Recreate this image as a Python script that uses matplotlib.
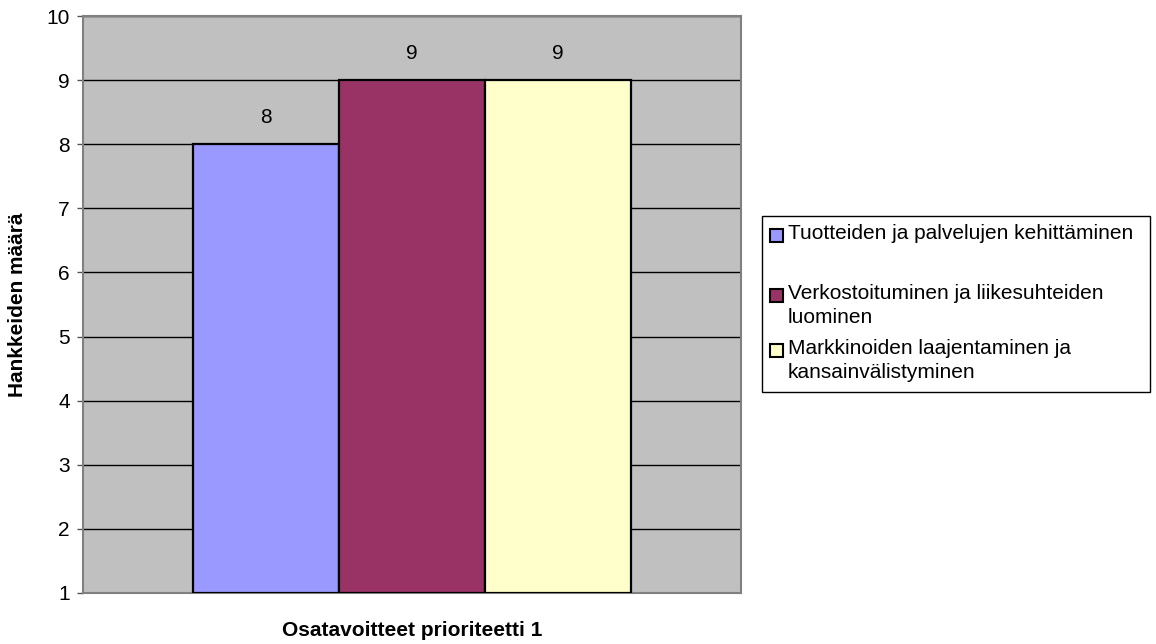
import matplotlib.pyplot as plt
from matplotlib.patches import Rectangle

categories = [
    "Tuotteiden ja palvelujen kehittäminen",
    "Verkostoituminen ja liikesuhteiden\nluominen",
    "Markkinoiden laajentaminen ja\nkansainvälistyminen",
]
values = [8, 9, 9]
colors = ["#9999FF", "#993366", "#FFFFCC"]
yticks = list(range(1, 11))

plt.rcParams["font.family"] = ["Liberation Sans", "DejaVu Sans"]
plt.rcParams["font.size"] = 15

W, H = 1156, 644
fig = plt.figure(figsize=(W / 100, H / 100), dpi=100)
ax = fig.add_axes([83 / W, 1 - 593 / H, (741 - 83) / W, (593 - 16) / H])
ax.set_facecolor("#C0C0C0")

x = list(range(len(values)))
base = yticks[0]
ax.bar(x, [v - base for v in values], bottom=base, width=1.0, color=colors,
       edgecolor="black", linewidth=1.6, zorder=3)
for xi, v in zip(x, values):
    ax.annotate(str(v), (xi, v), xytext=(0, 19), textcoords="offset points",
                ha="center", va="center", fontsize=15)

ax.set_xlim(-1.253, 3.253)
ax.set_ylim(yticks[0], yticks[-1])
ax.set_yticks(yticks)
ax.set_xticks([])
ax.grid(axis="y", color="black", linewidth=1.0, zorder=1)
ax.set_axisbelow(True)
ax.tick_params(axis="y", length=4.5, width=1, color="#555555", pad=5, labelsize=15)
for s in ax.spines.values():
    s.set_color("#808080")
    s.set_linewidth(1.5)

fig.text(18 / W, 1 - 305 / H, "Hankkeiden määrä", rotation=90, ha="center",
         va="center", fontweight="bold", fontsize=15)
fig.text(412 / W, 1 - 631 / H, "Osatavoitteet prioriteetti 1", ha="center",
         va="center", fontweight="bold", fontsize=15)

# legend drawn by hand to mimic the spreadsheet layout
fig.patches.append(Rectangle((762 / W, 1 - 392 / H), (1150 - 762) / W, (392 - 216) / H,
                             transform=fig.transFigure, facecolor="white",
                             edgecolor="black", linewidth=1.0))
entry_tops = [236, 296, 351]
for label, color, yc in zip(categories, colors, entry_tops):
    fig.patches.append(Rectangle((770 / W, 1 - (yc + 6) / H), 13 / W, 13 / H,
                                 transform=fig.transFigure, facecolor=color,
                                 edgecolor="black", linewidth=1.5))
    fig.text(788 / W, 1 - (yc - 12) / H, label, ha="left", va="top",
             fontsize=15, linespacing=1.32)

fig.savefig("out.png", dpi=100)
